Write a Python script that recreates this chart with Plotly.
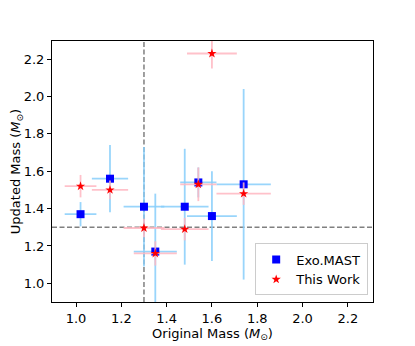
import plotly.graph_objects as go

# 元の質量 (x) と誤差
orig_mass = [1.02, 1.15, 1.30, 1.35, 1.48, 1.54, 1.60, 1.74]
orig_err = [0.07, 0.08, 0.09, 0.095, 0.105, 0.08, 0.11, 0.12]

# Exo.MAST の質量
exo_mass = [1.37, 1.56, 1.41, 1.17, 1.41, 1.54, 1.36, 1.53]
exo_err = [0.065, 0.18, 0.32, 0.31, 0.31, 0.08, 0.24, 0.51]

# This Work の質量
new_mass = [1.52, 1.50, 1.296, 1.16, 1.29, 1.53, 2.23, 1.48]
new_err = [0.06, 0.05, 0.05, 0.065, 0.06, 0.09, 0.08, 0.06]

REF = 1.3
FONT = "DejaVu Sans"

fig = go.Figure()
fig.add_trace(
    go.Scatter(
        x=orig_mass,
        y=exo_mass,
        name="Exo.MAST",
        mode="markers",
        marker=dict(symbol="square", size=8, color="blue"),
        error_x=dict(type="data", array=orig_err, color="rgba(135,206,250,0.85)", thickness=1.8, width=0),
        error_y=dict(type="data", array=exo_err, color="rgba(135,206,250,0.85)", thickness=1.8, width=0),
    )
)
fig.add_trace(
    go.Scatter(
        x=orig_mass,
        y=new_mass,
        name="This Work",
        mode="markers",
        marker=dict(symbol="star", size=7, color="red"),
        error_x=dict(type="data", array=orig_err, color="rgba(255,182,193,0.85)", thickness=1.8, width=0),
        error_y=dict(type="data", array=new_err, color="rgba(255,182,193,0.85)", thickness=1.8, width=0),
    )
)

# 基準線 1.3
dash = dict(color="gray", width=1.5, dash="5px,2.5px")
fig.add_shape(type="line", xref="x", yref="paper", x0=REF, x1=REF, y0=0, y1=1, line=dash, layer="below")
fig.add_shape(type="line", xref="paper", yref="y", x0=0, x1=1, y0=REF, y1=REF, line=dash, layer="below")

axis = dict(
    showline=True,
    linecolor="black",
    linewidth=1,
    mirror=True,
    ticks="outside",
    ticklen=4,
    tickcolor="black",
    showgrid=False,
    zeroline=False,
    automargin=False,
    tickfont=dict(family=FONT, size=13, color="black"),
    tickformat=".1f",
    dtick=0.2,
)

# ページの余白 (8px) を差し引いたマージン
fig.update_layout(
    width=415,
    height=346,
    margin=dict(l=44, r=50, t=33, b=52),
    plot_bgcolor="white",
    paper_bgcolor="white",
    font=dict(family=FONT, size=13, color="black"),
    xaxis=dict(
        axis,
        range=[0.894, 2.311],
        title=dict(text="Original Mass (<i>M</i><sub>⊙</sub>)", font=dict(family=FONT, size=13), standoff=2),
    ),
    yaxis=dict(
        axis,
        range=[0.90, 2.297],
        title=dict(text="Updated Mass (<i>M</i><sub>⊙</sub>)", font=dict(family=FONT, size=13), standoff=4),
    ),
    legend=dict(
        x=0.985,
        y=0.025,
        xanchor="right",
        yanchor="bottom",
        bgcolor="rgba(255,255,255,0.8)",
        bordercolor="#cccccc",
        borderwidth=1,
        font=dict(family=FONT, size=13),
    ),
)

fig.write_html("out.html")
